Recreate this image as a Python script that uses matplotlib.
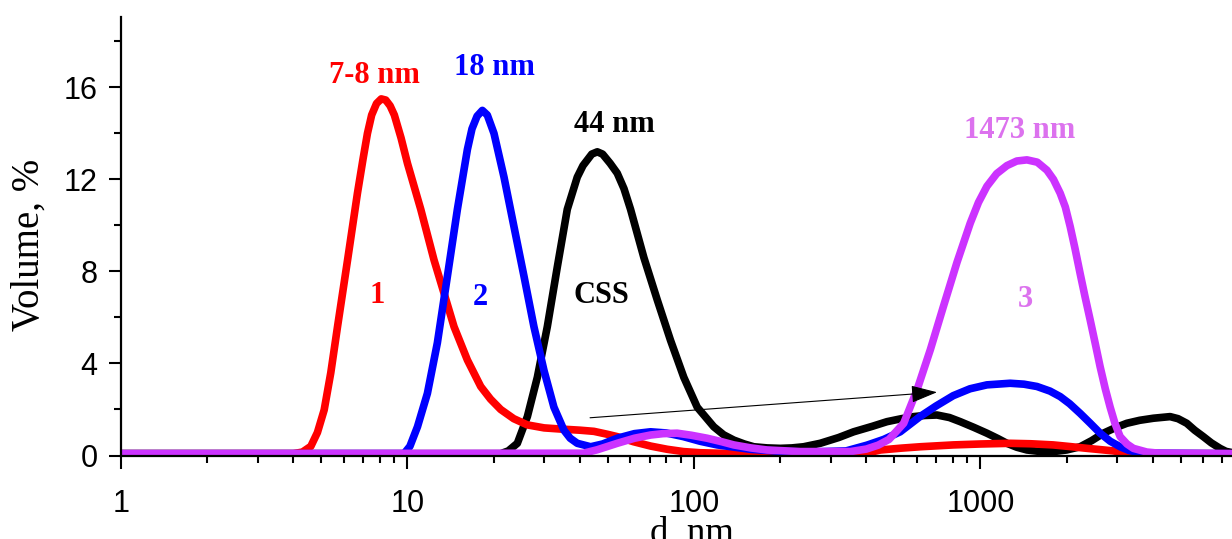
import matplotlib
matplotlib.use("Agg")
import matplotlib.pyplot as plt
from matplotlib.ticker import FixedLocator, LogLocator, NullFormatter

# volume-weighted size distributions (DLS), d in nm, volume in %
d_1 = [1, 4.0, 4.3, 4.6, 4.85, 5.12, 5.4, 5.7, 6.18, 6.69, 7.0, 7.25, 7.5, 7.8, 8.1,
       8.4, 8.7, 9.0, 9.5, 10.0, 11.13, 12.38, 13.42, 14.54, 16.19, 18.02, 19.5, 21.16,
       23.5, 26.22, 30, 34.25, 40, 44.76, 50, 54, 61.5, 70.6, 80.7, 92, 105, 130,
       400, 448, 530, 617, 805, 1000, 1271, 1500, 1795, 2050, 2360, 2600, 2908, 3200,
       3400, 7600]
v_1 = [0.08, 0.08, 0.15, 0.4, 1.0, 1.98, 3.6, 5.6, 8.5, 11.4, 12.9, 14.0, 14.8, 15.3, 15.5,
       15.45, 15.2, 14.8, 13.8, 12.7, 10.7, 8.5, 7.05, 5.6, 4.15, 3.0, 2.45, 2.0,
       1.6, 1.33, 1.2, 1.15, 1.1, 1.05, 0.92, 0.82, 0.6, 0.41, 0.27, 0.17, 0.12, 0.09,
       0.1, 0.24, 0.32, 0.38, 0.46, 0.5, 0.53, 0.51, 0.46, 0.39, 0.31, 0.26, 0.2, 0.12,
       0.08, 0.08]

d_2 = [1, 9.73, 10.2, 10.84, 11.74, 12.72, 13.79, 14.94, 16.19, 16.8, 17.5, 18.26, 19.0,
       20.05, 21.73, 23.54, 25.51, 27.64, 29.96, 32.46, 35.18, 37, 39.16, 43.6, 48, 54,
       62, 70.6, 80, 91.9, 105, 120.6, 157.5, 200, 250, 340, 402, 460, 525, 617, 700,
       804, 920, 1054, 1271, 1420, 1576, 1750, 1900, 2050, 2231, 2420, 2619, 2840,
       3076, 3300, 3517, 3800, 7600]
v_2 = [0.08, 0.08, 0.4, 1.25, 2.7, 4.9, 7.8, 10.7, 13.3, 14.2, 14.75, 15.0, 14.8,
       14.0, 12.1, 9.95, 7.8, 5.6, 3.7, 2.1, 1.1, 0.75, 0.53, 0.38, 0.5, 0.75,
       0.95, 1.03, 0.98, 0.82, 0.62, 0.46, 0.27, 0.18, 0.15, 0.2, 0.45, 0.7, 1.03, 1.7, 2.15,
       2.6, 2.9, 3.07, 3.14, 3.1, 3.0, 2.8, 2.56, 2.25, 1.83, 1.4, 0.97, 0.62,
       0.38, 0.22, 0.15, 0.1, 0.08]

d_css = [1, 21.16, 22.5, 24.19, 26.22, 28.41, 30.78, 33.36, 36.14, 39.16, 41, 44, 46, 48,
         51, 54, 57, 60.1, 66.9, 74.5, 82.9, 92.2, 102.7, 117.3, 127, 137.8, 150, 161.8,
         180, 200, 220, 241.6, 276, 320, 361, 420, 472, 530, 585, 640, 706, 780, 851, 950,
         1054, 1150, 1238, 1340, 1454, 1600, 1800, 2000, 2231, 2450, 2690, 2950, 3246,
         3600, 4019, 4597, 4900, 5256, 5600, 6004, 6400, 6867, 7200, 7600]
v_css = [0.08, 0.08, 0.2, 0.53, 1.69, 3.4, 5.6, 8.2, 10.7, 12.1, 12.6, 13.1, 13.2, 13.1,
         12.7, 12.27, 11.6, 10.7, 8.6, 6.76, 5.0, 3.4, 2.1, 1.25, 0.9, 0.67, 0.5, 0.38,
         0.33, 0.31, 0.33, 0.38, 0.53, 0.78, 1.03, 1.27, 1.47, 1.6, 1.69, 1.74, 1.76, 1.65,
         1.47, 1.22, 0.97, 0.74, 0.53, 0.36, 0.24, 0.18, 0.17, 0.24, 0.38, 0.65, 0.97,
         1.2, 1.4, 1.53, 1.62, 1.69, 1.6, 1.4, 1.1, 0.82, 0.55, 0.31, 0.18, 0.12]

d_3 = [1, 41.2, 46, 54, 62, 70.6, 78, 87.4, 98, 111.3, 125, 137.8, 158, 180, 235, 352,
       400, 440, 480, 540, 601, 669, 744, 829, 922, 985, 1054, 1140, 1238, 1340, 1454,
       1580, 1708, 1800, 1900, 1980, 2059, 2140, 2231, 2320, 2417, 2520, 2619, 2730,
       2839, 2950, 3076, 3250, 3422, 3811, 4200, 7600]
v_3 = [0.08, 0.1, 0.25, 0.53, 0.75, 0.89, 0.95, 0.97, 0.88, 0.75, 0.6, 0.46, 0.33, 0.24,
       0.17, 0.17, 0.28, 0.45, 0.7, 1.4, 2.85, 4.6, 6.5, 8.4, 10.1, 11.0, 11.7, 12.25,
       12.6, 12.8, 12.85, 12.75, 12.4, 12.0, 11.4, 10.8, 9.95, 9.0, 7.9, 6.9, 5.9, 4.85,
       3.86, 2.9, 2.1, 1.4, 0.82, 0.5, 0.31, 0.15, 0.1, 0.08]

RED, BLUE, BLACK, VIOLET = "#ff0000", "#0000ff", "#000000", "#cc33ff"
VIOLET_TXT = "#dc72ee"

plt.rcParams["font.family"] = ["Liberation Sans", "DejaVu Sans"]
SERIF = ["Liberation Serif", "DejaVu Serif"]

fig = plt.figure(figsize=(12.32, 5.39), dpi=100)
ax = fig.add_axes([121 / 1232, 1 - 455.5 / 539, 1 - 121 / 1232, (455.5 - 17) / 539])

lw = 5.5
for d, v, c in ((d_css, v_css, BLACK), (d_1, v_1, RED), (d_2, v_2, BLUE), (d_3, v_3, VIOLET)):
    ax.plot(d, v, color=c, lw=lw, solid_joinstyle="round", solid_capstyle="butt")

ax.set_xscale("log")
ax.set_xlim(1, 7560)
ax.set_ylim(0, 19.06)

ax.xaxis.set_major_locator(FixedLocator([1, 10, 100, 1000]))
ax.set_xticklabels(["1", "10", "100", "1000"])
ax.xaxis.set_minor_locator(LogLocator(base=10, subs=range(2, 10), numticks=20))
ax.xaxis.set_minor_formatter(NullFormatter())
ax.set_yticks([0, 4, 8, 12, 16])
ax.yaxis.set_minor_locator(FixedLocator([2, 6, 10, 14, 18]))

for s in ("top", "right"):
    ax.spines[s].set_visible(False)
for s in ("left", "bottom"):
    ax.spines[s].set_linewidth(1.6)

ax.tick_params(which="major", direction="out", length=9, width=1.5, labelsize=22)
ax.tick_params(which="minor", direction="out", length=5, width=1.5)
ax.tick_params(axis="x", which="major", pad=15)
ax.tick_params(axis="y", which="major", pad=8)

# drift of the size distribution
ax.annotate("", xy=(706, 2.75), xytext=(43.4, 1.64),
            arrowprops=dict(arrowstyle="-|>,head_length=0.9,head_width=0.3",
                            lw=0.8, color="black", mutation_scale=18,
                            shrinkA=0, shrinkB=0))

lab = dict(fontsize=22, fontweight="bold", family=SERIF, ha="center", va="baseline")
ax.text(7.69, 16.2, "7-8 nm", color=RED, **lab)
ax.text(20.2, 16.54, "18 nm", color=BLUE, **lab)
ax.text(52.8, 14.07, "44 nm", color=BLACK, **lab)
ax.text(1367, 13.8, "1473 nm", color=VIOLET_TXT, **lab)
ax.text(7.82, 6.63, "1", color=RED, **lab)
ax.text(18.0, 6.54, "2", color=BLUE, **lab)
ax.text(47.6, 6.63, "CSS", color=BLACK, **lab)
ax.text(1434, 6.46, "3", color=VIOLET_TXT, **lab)

fig.text(692 / 1232, -0.006, "d, nm", fontsize=26.5, family=SERIF, ha="center", va="baseline")
fig.text(29 / 1232, 1 - 245 / 539, "Volume, %", fontsize=28, family=SERIF,
         rotation=90, ha="center", va="center")

fig.savefig("out.png", dpi=100)
